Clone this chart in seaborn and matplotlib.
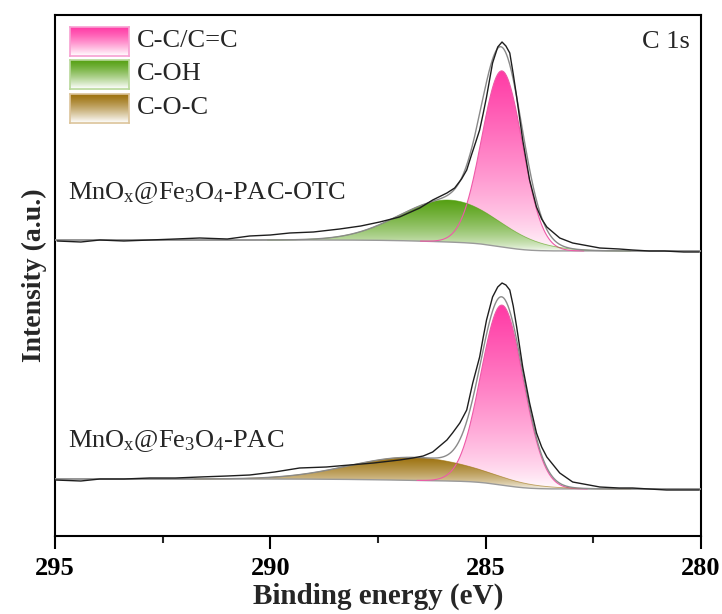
import numpy as np
import matplotlib
matplotlib.use("Agg")
import matplotlib.pyplot as plt
import matplotlib.colors as mcolors
from matplotlib.ticker import MultipleLocator
import seaborn as sns

# ---------------- data ----------------
# top spectrum: MnOx@Fe3O4-PAC-OTC, raw curve
top_raw_E = [294.95, 294.4, 293.96, 293.4, 292.8, 292.2, 291.64, 291.0, 290.48, 290.0,
             289.55, 289.0, 288.39, 287.9, 287.46, 287.0, 286.53, 286.23, 285.9, 285.72,
             285.56, 285.44, 285.33, 285.23, 285.14, 285.06, 284.98, 284.84, 284.72,
             284.62, 284.53, 284.44, 284.36, 284.28, 284.14, 283.98, 283.82, 283.7,
             283.58, 283.28, 282.98, 282.6, 282.35, 281.9, 281.59, 281.2, 280.85,
             280.4, 280.04]
top_raw_I = [295, 294, 296, 295, 296, 297, 298, 297, 300, 301, 303, 304, 307, 310, 314,
             319, 328, 336, 343, 348, 357, 366, 381, 394, 406, 422, 439, 473, 489, 494,
             490, 483, 462, 439, 396, 356, 329, 317, 309, 298, 293, 290, 288, 287, 286,
             285, 285, 284, 284]
# bottom spectrum: MnOx@Fe3O4-PAC, raw curve
bot_raw_E = [295.0, 294.4, 293.96, 293.4, 292.8, 292.2, 291.64, 291.0, 290.48, 289.9,
             289.32, 288.7, 288.16, 287.6, 287.0, 286.69, 286.45, 286.23, 285.9, 285.77,
             285.6, 285.44, 285.3, 285.14, 285.06, 284.98, 284.84, 284.72, 284.62,
             284.53, 284.44, 284.36, 284.28, 284.14, 283.98, 283.82, 283.7, 283.58,
             283.28, 282.98, 282.6, 282.35, 281.9, 281.59, 281.2, 280.8, 280.4, 280.04]
bot_raw_I = [56, 55, 57, 57, 58, 58, 59, 60, 61, 64, 68, 69, 71, 73, 76, 78, 80, 84, 96,
             103, 113, 126, 153, 179, 198, 216, 239, 249, 253, 251, 246, 230, 209, 169,
             133, 103, 89, 79, 63, 54, 51, 49, 48, 48, 47, 46, 46, 46]

# fitted components: centre (eV), height, sigma (eV)
components = ["C-C/C=C", "C-OH", "C-O-C"]
comp_colors = ["#ff3aa5", "#55a012", "#9c700c"]
comp_edges = ["#f7a0d2", "#b8d89a", "#dcc49a"]
top_centers = [284.62, 285.85]
top_heights = [176, 42]
top_sigmas = [0.47, 1.15]
top_bg = [285, 296]          # background low-BE / high-BE level
bot_centers = [284.62, 286.7]
bot_heights = [180, 23]
bot_sigmas = [0.49, 1.45]
bot_bg = [47, 57]

sample_labels = [r"MnO$_\mathregular{x}$@Fe$_\mathregular{3}$O$_\mathregular{4}$-PAC-OTC",
                 r"MnO$_\mathregular{x}$@Fe$_\mathregular{3}$O$_\mathregular{4}$-PAC"]
xticks = [295, 290, 285, 280]

# ---------------- style ----------------
sns.set_theme(style="ticks")
plt.rcParams["font.family"] = ["Liberation Serif", "DejaVu Serif"]
plt.rcParams["mathtext.fontset"] = "custom"
plt.rcParams["mathtext.rm"] = "Liberation Serif"
plt.rcParams["mathtext.it"] = "Liberation Serif:italic"
plt.rcParams["mathtext.bf"] = "Liberation Serif:bold"

fig = plt.figure(figsize=(7.22, 6.14), dpi=100)
ax = fig.add_axes([55 / 722, 1 - 536 / 614, 646 / 722, 521 / 614])

E = np.linspace(280, 295, 1500)


def gauss(c, h, s):
    return h * np.exp(-0.5 * ((E - c) / s) ** 2)


def grad_fill(x, ylow, yhigh, color, z, power):
    poly = ax.fill_between(x, ylow, yhigh, facecolor="none", edgecolor="none", zorder=z)
    rgb = np.array(mcolors.to_rgb(color))
    n = 256
    t = (np.linspace(0, 1, n) ** power)[:, None, None]
    img = np.ones((n, 1, 4))
    img[:, :, :3] = (1 - t) * 1.0 + t * rgb
    ymin, ymax = ylow.min(), yhigh.max()
    im = ax.imshow(img, extent=[x.min(), x.max(), ymin, ymax], origin="lower",
                   aspect="auto", zorder=z, interpolation="bilinear")
    im.set_clip_path(poly.get_paths()[0], transform=ax.transData)


def draw_spectrum(centers, heights, sigmas, bg, raw_E, raw_I, comp_idx):
    comps = [gauss(c, h, s) for c, h, s in zip(centers, heights, sigmas)]
    total = np.sum(comps, axis=0)
    cum = np.cumsum(total)
    back = bg[0] + (bg[1] - bg[0]) * cum / cum[-1]
    for k, (comp, ci) in enumerate(zip(comps, comp_idx)):
        mask = comp > 0.3
        grad_fill(E[mask], back[mask], back[mask] + comp[mask], comp_colors[ci], 2 + k,
                  0.75 if ci == 0 else 0.6)
    # component outlines
    for k, (comp, ci) in enumerate(zip(comps, comp_idx)):
        mask = comp > 0.05
        if ci == 0:
            sns.lineplot(x=E[mask], y=back[mask] + comp[mask], ax=ax, color="#ee5aa8",
                         lw=0.8, zorder=6)
        else:
            sns.lineplot(x=E[mask], y=back[mask] + comp[mask], ax=ax,
                         color=comp_colors[ci], lw=0.6, alpha=0.6, zorder=6)
    sns.lineplot(x=E, y=back, ax=ax, color="#9a9a9a", lw=1.0, zorder=5)
    sns.lineplot(x=E, y=back + total, ax=ax, color="#8a8a8a", lw=1.0, zorder=7)
    sns.lineplot(x=raw_E, y=raw_I, ax=ax, color="#1e1e1e", lw=1.0, zorder=8)


draw_spectrum(top_centers, top_heights, top_sigmas, top_bg, top_raw_E, top_raw_I, [0, 1])
draw_spectrum(bot_centers, bot_heights, bot_sigmas, bot_bg, bot_raw_E, bot_raw_I, [0, 2])

ax.set_xlim(295, 280)
ax.set_ylim(0, 521)
ax.set_xticks(xticks)
ax.xaxis.set_minor_locator(MultipleLocator(2.5))
ax.set_yticks([])
ax.tick_params(axis="x", which="major", direction="out", length=9, width=1.5, pad=6,
               labelsize=19, colors="black")
ax.tick_params(axis="x", which="minor", direction="out", length=5, width=1.5)
for lab in ax.get_xticklabels():
    lab.set_fontweight("bold")
for sp in ax.spines.values():
    sp.set_visible(True)
    sp.set_linewidth(1.5)
    sp.set_color("black")
ax.set_xlabel("Binding energy (eV)", fontsize=21, fontweight="bold", labelpad=2)
ax.set_ylabel("Intensity (a.u.)", fontsize=20, fontweight="bold", labelpad=6)

# legend: gradient swatches
sw_bottoms = [0.921, 0.858, 0.793]
sw_text_y = [0.950, 0.886, 0.821]
for i, name in enumerate(components):
    sax = ax.inset_axes([0.0232, sw_bottoms[i], 0.0913, 0.0557])
    rgb = np.array(mcolors.to_rgb(comp_colors[i]))
    t = (np.linspace(0, 1, 64) ** 1.3)[:, None, None]
    img = (1 - t) * rgb + t * 1.0
    sax.imshow(np.broadcast_to(img, (64, 2, 3)), aspect="auto", extent=[0, 1, 0, 1],
               interpolation="bilinear")
    sax.set_xticks([])
    sax.set_yticks([])
    for sp in sax.spines.values():
        sp.set_color(comp_edges[i])
        sp.set_linewidth(1.2)
    ax.text(0.127, sw_text_y[i], name, transform=ax.transAxes, fontsize=19,
            va="center", ha="left")

ax.text(0.983, 0.948, "C 1s", transform=ax.transAxes, fontsize=19, va="center", ha="right")
ax.text(0.020, 0.647, sample_labels[0], transform=ax.transAxes, fontsize=19,
        va="baseline", ha="left")
ax.text(0.020, 0.171, sample_labels[1], transform=ax.transAxes, fontsize=19,
        va="baseline", ha="left")

fig.savefig("out.png", dpi=100)
